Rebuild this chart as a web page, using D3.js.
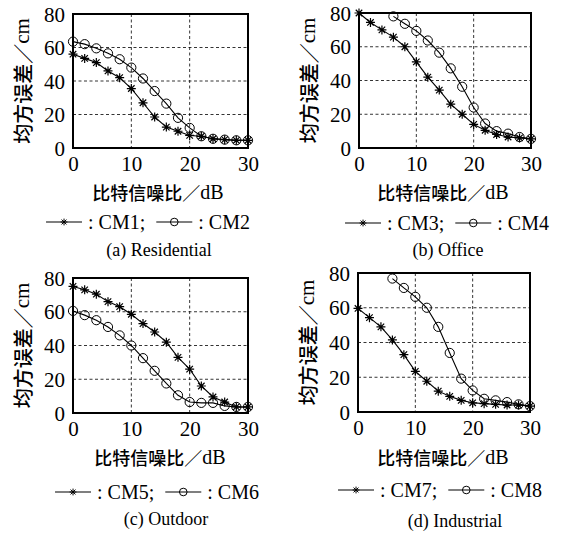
<!DOCTYPE html>
<html><head><meta charset="utf-8">
<script src="https://cdn.jsdelivr.net/npm/d3@7"></script>
<style>body{margin:0;background:#fff}</style></head>
<body>
<script>
// ---- data ----
const snr = [0,2,4,6,8,10,12,14,16,18,20,22,24,26,28,30];
const snrHigh = [6,8,10,12,14,16,18,20,22,24,26,28,30];
const xTicks = [0,10,20,30];
const yTicks = [0,20,40,60,80];
const cm1 = [56,53.5,51,46,42,35.5,27,18.5,12.5,10,7.5,7,5.5,5,4.6,4.6];
const cm2 = [63.5,62,59.5,56.5,53,48,41.5,34,26.5,18,12,7,5.5,5,4.6,4.6];
const cm3 = [80,74.4,70,65.7,60,51,42,34.3,26,20,14,10.5,8,6.5,6,5.4];
const cm4 = [78,73.6,69.4,63.7,56.5,47.2,36.3,24,14.5,10,8.5,6.5,5.4];
const cm5 = [75,73,70.4,66,63,58.5,53,48,42,33,26,16,9.5,6.5,3.6,3.6];
const cm6 = [60.5,58,55,51,46,40,32.5,25,17.5,10.5,6.5,6,6,4.2,3.6,3.6];
const cm7 = [59.6,54.3,49,41.5,33,23.4,17.7,12,9,6.7,5.3,4.8,4.4,4,4,3.4];
const cm8 = [76.8,71.4,66.3,60,49,34,19.2,12.4,7.6,6.7,5.7,4.4,3.4];
const subtitles = ["(a) Residential","(b) Office","(c) Outdoor","(d) Industrial"];
const names = [["CM1","CM2"],["CM3","CM4"],["CM5","CM6"],["CM7","CM8"]];
const xTitle = ["比特信噪比／","dB"];
const yTitle = ["均方误差／","cm"];

const SERIF = "'Liberation Serif','Times New Roman',serif";
const CJK = "'Noto Sans CJK SC','Noto Sans',sans-serif";

const panels = [
  {x0:73,x1:248,y0:14,y1:148, s:[{xs:snr,ys:cm1,m:"star"},{xs:snr,ys:cm2,m:"circle"}], cx:158, legCx:148, xtY:192, legY:222, subY:250, subCx:159},
  {x0:359,x1:531,y0:13,y1:148, s:[{xs:snr,ys:cm3,m:"star"},{xs:snrHigh,ys:cm4,m:"circle"}], cx:443, legCx:447, xtY:192, legY:223, subY:250, subCx:448},
  {x0:73,x1:248,y0:278,y1:413, s:[{xs:snr,ys:cm5,m:"star"},{xs:snr,ys:cm6,m:"circle"}], cx:160, legCx:157, xtY:457, legY:492, subY:519, subCx:166},
  {x0:358,x1:530,y0:273,y1:412, s:[{xs:snr,ys:cm7,m:"star"},{xs:snrHigh,ys:cm8,m:"circle"}], cx:443, legCx:440, xtY:457, legY:490, subY:521, subCx:455}
];

const svg = d3.select("body").append("svg").attr("width",575).attr("height",537);

const starPath = r => { const d=r*0.72; return `M${-r},0H${r}M0,${-r}V${r}M${-d},${-d}L${d},${d}M${-d},${d}L${d},${-d}`; };

function marker(g, type, x, y){
  if(type==="star") g.append("path").attr("d",starPath(4.5)).attr("transform",`translate(${x},${y})`).attr("stroke","#000").attr("stroke-width",1.2).attr("fill","none");
  else g.append("circle").attr("cx",x).attr("cy",y).attr("r",4.6).attr("stroke","#000").attr("stroke-width",1).attr("fill","none");
}

panels.forEach((p,i)=>{
  const g = svg.append("g");
  const x = d3.scaleLinear().domain([0,30]).range([p.x0,p.x1]);
  const y = d3.scaleLinear().domain([0,80]).range([p.y1,p.y0]);
  // grid
  g.append("g").selectAll("line").data(xTicks.slice(1,-1)).join("line")
    .attr("x1",d=>x(d)).attr("x2",d=>x(d)).attr("y1",p.y0).attr("y2",p.y1)
    .attr("stroke","#000").attr("stroke-width",0.8).attr("stroke-dasharray","3,2.5");
  g.append("g").selectAll("line").data(yTicks.slice(1,-1)).join("line")
    .attr("y1",d=>y(d)).attr("y2",d=>y(d)).attr("x1",p.x0).attr("x2",p.x1)
    .attr("stroke","#000").attr("stroke-width",0.8).attr("stroke-dasharray","3,2.5");
  // axes
  const ax = g.append("g").attr("transform",`translate(0,${p.y1})`).call(d3.axisBottom(x).tickValues(xTicks).tickSize(0).tickPadding(8));
  const ay = g.append("g").attr("transform",`translate(${p.x0},0)`).call(d3.axisLeft(y).tickValues(yTicks).tickSize(0).tickPadding(8));
  [ax,ay].forEach(a=>{a.select(".domain").remove(); a.selectAll("text").attr("font-family",SERIF).attr("font-size",21).attr("fill","#000");});
  ax.selectAll("text").attr("dy",null).attr("y",16).attr("dominant-baseline","central");
  ay.selectAll("text").attr("dy",null).attr("dominant-baseline","central");
  // box
  g.append("rect").attr("x",p.x0).attr("y",p.y0).attr("width",p.x1-p.x0).attr("height",p.y1-p.y0)
    .attr("fill","none").attr("stroke","#000").attr("stroke-width",2);
  // series
  const line = d3.line().x(d=>x(d[0])).y(d=>y(d[1]));
  p.s.forEach(s=>{
    const pts = s.xs.map((v,k)=>[v,s.ys[k]]);
    g.append("path").attr("d",line(pts)).attr("fill","none").attr("stroke","#000").attr("stroke-width",1.1);
  });
  p.s.slice().reverse().forEach(s=>{
    s.xs.forEach((v,k)=>marker(g,s.m,x(v),y(s.ys[k])));
  });
  // y title
  const yt = g.append("text").attr("transform",`translate(${p.x0-51},${(p.y0+p.y1)/2}) rotate(-90)`)
    .attr("text-anchor","middle").attr("dominant-baseline","central").attr("fill","#000");
  yt.append("tspan").attr("font-family",CJK).attr("font-size",20).attr("font-weight",500).text(yTitle[0]);
  yt.append("tspan").attr("font-family",SERIF).attr("font-size",21).text(yTitle[1]);
  // x title
  const xt = g.append("text").attr("x",p.cx).attr("y",p.xtY).attr("text-anchor","middle").attr("dominant-baseline","central").attr("fill","#000");
  xt.append("tspan").attr("font-family",CJK).attr("font-size",18).attr("font-weight",500).text(xTitle[0]);
  xt.append("tspan").attr("font-family",SERIF).attr("font-size",20).text(xTitle[1]);
  // legend
  const lg = g.append("g");
  let cur = 0;
  const L = 36;
  names[i].forEach((nm,k)=>{
    const type = k===0?"star":"circle";
    lg.append("line").attr("x1",cur).attr("x2",cur+L).attr("y1",0).attr("y2",0).attr("stroke","#000").attr("stroke-width",1.1);
    if(type==="star") lg.append("path").attr("d",starPath(3.4)).attr("transform",`translate(${cur+L/2},0)`).attr("stroke","#000").attr("fill","none");
    else lg.append("circle").attr("cx",cur+L/2).attr("cy",0).attr("r",3.8).attr("stroke","#000").attr("fill","none");
    cur += L+6;
    const t = lg.append("text").attr("x",cur).attr("y",0).attr("dominant-baseline","central")
      .attr("font-family",SERIF).attr("font-size",20).attr("fill","#000").text(": "+nm+(k===0?";":""));
    cur += t.node().getComputedTextLength() + 11;
  });
  const w = cur-11;
  lg.attr("transform",`translate(${p.legCx-w/2},${p.legY})`);
  // subtitle
  g.append("text").attr("x",p.subCx).attr("y",p.subY).attr("text-anchor","middle").attr("dominant-baseline","central")
    .attr("font-family",SERIF).attr("font-size",18).attr("fill","#000").text(subtitles[i]);
});
</script>
</body></html>
